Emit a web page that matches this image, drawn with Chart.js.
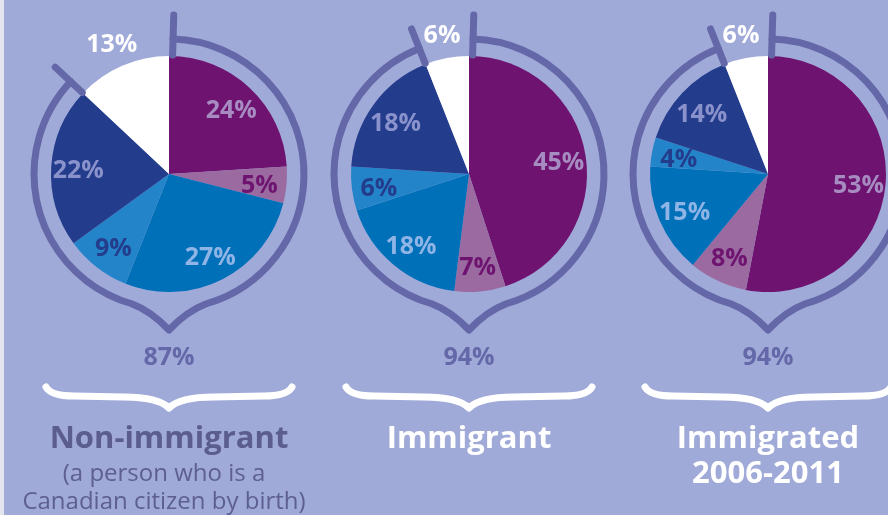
<!DOCTYPE html>
<html>
<head>
<meta charset="utf-8">
<script src="https://cdn.jsdelivr.net/npm/chart.js@4.4.1/dist/chart.umd.min.js"></script>
<style>
    html, body { margin: 0; padding: 0; width: 888px; height: 515px; overflow: hidden; background: #a0aad8; }
    body { position: relative; }
    .strip { position: absolute; left: 0; top: 0; width: 4px; height: 515px; background: #e4e5ec; }
    canvas { position: absolute; top: 0; }
</style>
</head>
<body>
<div class="strip"></div>
<canvas id="pie0" width="340" height="515" style="left:-1px"></canvas>
<canvas id="pie1" width="340" height="515" style="left:299px"></canvas>
<canvas id="pie2" width="340" height="515" style="left:598px"></canvas>
<script>
// slices go clockwise from 12 o'clock
const sliceNames = ['Segment 1', 'Segment 2', 'Segment 3', 'Segment 4', 'Segment 5', 'Segment 6'];
const nonImmigrant = [24, 5, 27, 9, 22, 13];
const immigrant = [45, 7, 18, 6, 18, 6];
const recentImmigrant = [53, 8, 15, 4, 14, 6];
const totals = [87, 94, 94];
const titles = [['Non-immigrant'], ['Immigrant'], ['Immigrated', '2006-2011']];
const notes = [['(a person who is a', 'Canadian citizen by birth)'], [], []];

const sliceColors = ['#6e1470', '#9a6aa0', '#0070b9', '#2484c9', '#243c8c', '#ffffff'];
const labelColors = ['#a78cc2', '#6e1470', '#8fb4e6', '#243c8c', '#8a92cc', '#ffffff'];
const ringColor = '#6468a8';

const ringPlugin = {
    id: 'ring',
    afterDatasetsDraw(chart, args, opts) {
        const ctx = chart.ctx;
        const arcs = chart.getDatasetMeta(0).data;
        const first = arcs[0].getProps(['x', 'y', 'startAngle', 'outerRadius'], true);
        const last = arcs[arcs.length - 1].getProps(['startAngle'], true);
        const x = first.x, y = first.y, R = first.outerRadius;
        const rr = R + 17;
        const a0 = first.startAngle + 0.03;
        const a1 = last.startAngle;
        const dip = 0.28;

        ctx.save();
        ctx.strokeStyle = ringColor;
        ctx.lineWidth = 7;
        ctx.lineCap = 'round';
        ctx.lineJoin = 'round';

        // outline that comes to a point at the bottom
        ctx.beginPath();
        ctx.arc(x, y, rr, a0, Math.PI / 2 - dip);
        ctx.quadraticCurveTo(x + 18, y + rr + 2, x, y + rr + 21);
        ctx.quadraticCurveTo(x - 18, y + rr + 2,
            x + rr * Math.cos(Math.PI / 2 + dip), y + rr * Math.sin(Math.PI / 2 + dip));
        ctx.arc(x, y, rr, Math.PI / 2 + dip, a1);
        ctx.stroke();

        // ticks at both ends
        [[a0, R + 41], [a1, R + 38]].forEach(([a, r2]) => {
            ctx.beginPath();
            ctx.moveTo(x + (R + 1) * Math.cos(a), y + (R + 1) * Math.sin(a));
            ctx.lineTo(x + r2 * Math.cos(a), y + r2 * Math.sin(a));
            ctx.stroke();
        });

        // slice labels
        ctx.font = 'bold 25px "Open Sans"';
        ctx.textAlign = 'center';
        ctx.textBaseline = 'middle';
        const values = chart.data.datasets[0].data;
        arcs.forEach((arc, i) => {
            const p = arc.getProps(['startAngle', 'endAngle'], true);
            const mid = (p.startAngle + p.endAngle) / 2;
            const r = i === arcs.length - 1 ? R + 26 : R * 0.77;
            ctx.fillStyle = labelColors[i];
            ctx.fillText(values[i] + '%', x + r * Math.cos(mid), y + 3 + r * Math.sin(mid));
        });

        // total under the point
        ctx.fillStyle = ringColor;
        ctx.fillText(opts.total + '%', x, 358);

        // brace
        ctx.strokeStyle = '#ffffff';
        ctx.lineWidth = 7;
        ctx.beginPath();
        ctx.moveTo(x - 123, 387);
        ctx.quadraticCurveTo(x - 118, 396, x - 95, 396);
        ctx.lineTo(x - 45, 397);
        ctx.bezierCurveTo(x - 22, 397, x - 8, 400, x, 408);
        ctx.bezierCurveTo(x + 8, 400, x + 22, 397, x + 45, 397);
        ctx.lineTo(x + 95, 396);
        ctx.quadraticCurveTo(x + 118, 396, x + 123, 387);
        ctx.stroke();

        // titles
        ctx.textBaseline = 'alphabetic';
        ctx.fillStyle = opts.titleColor;
        ctx.font = 'bold 31px "Open Sans"';
        opts.title.forEach((line, k) => ctx.fillText(line, x, 448 + k * 35));
        ctx.fillStyle = '#5d5f92';
        ctx.font = '24px "Open Sans"';
        opts.note.forEach((line, k) => ctx.fillText(line, x - 5, 481 + k * 28));
        ctx.restore();
    }
};

function makePie(id, values, idx, titleColor) {
    return new Chart(document.getElementById(id), {
        type: 'pie',
        data: {
            labels: sliceNames,
            datasets: [{
                data: values,
                backgroundColor: sliceColors,
                borderWidth: 0,
                hoverOffset: 0
            }]
        },
        options: {
            responsive: false,
            animation: false,
            layout: { padding: { top: 56, bottom: 223, left: 52, right: 52 } },
            plugins: {
                legend: { display: false },
                tooltip: { enabled: false },
                ring: { total: totals[idx], title: titles[idx], note: notes[idx], titleColor: titleColor }
            }
        },
        plugins: [ringPlugin]
    });
}

makePie('pie0', nonImmigrant, 0, '#5b5d8f');
makePie('pie1', immigrant, 1, '#ffffff');
makePie('pie2', recentImmigrant, 2, '#ffffff');
</script>
</body>
</html>
